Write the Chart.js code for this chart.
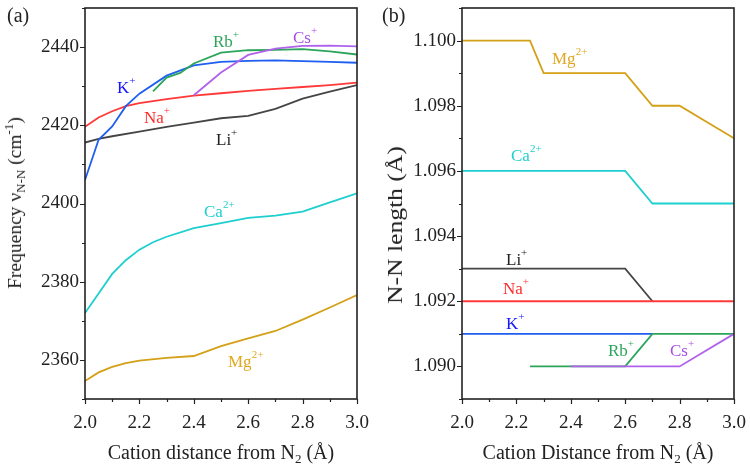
<!DOCTYPE html>
<html>
<head>
<meta charset="utf-8">
<script src="https://cdn.jsdelivr.net/npm/chart.js@4.4.1/dist/chart.umd.min.js"></script>
<style>
  html, body { margin: 0; padding: 0; background: #fff; }
  #wrap { position: relative; width: 750px; height: 471px; overflow: hidden;
          font-family: 'Liberation Serif', 'Times New Roman', serif; color: #222; }
  .panel { position: absolute; top: 0; width: 375px; height: 471px; }
  .lbl { position: absolute; font-size: 17px; line-height: 17px; white-space: nowrap; }
  .lbl .sp { font-size: 11px; position: relative; top: -9px; }
  .tag { position: absolute; font-size: 20px; line-height: 20px; }
  .ttl { position: absolute; font-size: 20px; line-height: 20px; white-space: nowrap;
         transform: translate(-50%, -50%); }
  .ttl.rot { transform: translate(-50%, -50%) rotate(-90deg); }
  .ttl.rot.wide { transform: translate(-50%, -50%) rotate(-90deg) scaleX(1.28); }
  .ttl sub { font-size: 13px; vertical-align: baseline; position: relative; top: 4px; }
  .ttl sup { font-size: 13px; vertical-align: baseline; position: relative; top: -8px; }
</style>
</head>
<body>
<div id="wrap">
  <div class="panel" style="left:0"><canvas id="freqChart" width="375" height="471"></canvas></div>
  <div class="panel" style="left:375px"><canvas id="lenChart" width="375" height="471"></canvas></div>

  <div class="tag" style="left:7px;top:5px">(a)</div>
  <div class="tag" style="left:382px;top:5px">(b)</div>

  <div class="ttl rot" style="left:16px;top:203px;font-size:19.5px">Frequency ν<sub>N-N</sub> (cm<sup>-1</sup>)</div>
  <div class="ttl" style="left:221px;top:453px">Cation distance from N<sub>2</sub> (Å)</div>
  <div class="ttl rot wide" style="left:395px;top:225px">N-N length (Å)</div>
  <div class="ttl" style="left:598px;top:453px">Cation Distance from N<sub>2</sub> (Å)</div>

  <!-- (a) series labels -->
  <div class="lbl" style="left:117px;top:79px;color:#1515ff">K<span class="sp">+</span></div>
  <div class="lbl" style="left:144px;top:109px;color:#ff2a2a">Na<span class="sp">+</span></div>
  <div class="lbl" style="left:216px;top:131px;color:#222">Li<span class="sp">+</span></div>
  <div class="lbl" style="left:213px;top:33px;color:#2ca55a">Rb<span class="sp">+</span></div>
  <div class="lbl" style="left:293px;top:29px;color:#a64de6">Cs<span class="sp">+</span></div>
  <div class="lbl" style="left:204px;top:203px;color:#1ecfcf">Ca<span class="sp">2+</span></div>
  <div class="lbl" style="left:228px;top:353px;color:#e0a820">Mg<span class="sp">2+</span></div>

  <!-- (b) series labels -->
  <div class="lbl" style="left:552px;top:50px;color:#e0a820">Mg<span class="sp">2+</span></div>
  <div class="lbl" style="left:511px;top:147px;color:#1ecfcf">Ca<span class="sp">2+</span></div>
  <div class="lbl" style="left:506px;top:251px;color:#222">Li<span class="sp">+</span></div>
  <div class="lbl" style="left:503px;top:280px;color:#ff2a2a">Na<span class="sp">+</span></div>
  <div class="lbl" style="left:506px;top:315px;color:#1515ff">K<span class="sp">+</span></div>
  <div class="lbl" style="left:608px;top:342px;color:#2ca55a">Rb<span class="sp">+</span></div>
  <div class="lbl" style="left:670px;top:342px;color:#a64de6">Cs<span class="sp">+</span></div>
</div>

<script>
// ── Colores ───────────────────────────────────────────────────
const C_LI = '#454545';
const C_NA = '#ff3838';
const C_K  = '#1f5ef0';
const C_RB = '#2ca55a';
const C_CS = '#b063ea';
const C_CA = '#1ecfcf';
const C_MG = '#d4a017';

// ── (a) Frecuencia N-N vs distancia ──────────────────────────
const liDist = [2.0, 2.05, 2.1, 2.2, 2.3, 2.4, 2.5, 2.6, 2.7, 2.8, 2.9, 3.0];
const liFreq = [2415.6, 2416.5, 2417.2, 2418.4, 2419.6, 2420.7, 2421.8, 2422.4, 2424.2, 2426.8, 2428.6, 2430.3];

const naDist = [2.0, 2.05, 2.1, 2.15, 2.2, 2.3, 2.4, 2.5, 2.6, 2.7, 2.8, 2.9, 3.0];
const naFreq = [2419.6, 2422.0, 2423.6, 2424.9, 2425.7, 2426.7, 2427.6, 2428.2, 2428.8, 2429.3, 2429.8, 2430.3, 2430.9];

const kDist  = [2.0, 2.05, 2.1, 2.15, 2.2, 2.3, 2.4, 2.5, 2.6, 2.7, 2.8, 2.9, 3.0];
const kFreq  = [2406.0, 2416.3, 2419.7, 2424.9, 2428.1, 2432.7, 2435.3, 2436.2, 2436.5, 2436.6, 2436.4, 2436.2, 2436.0];

const rbDist = [2.25, 2.3, 2.35, 2.4, 2.5, 2.6, 2.7, 2.8, 2.9, 3.0];
const rbFreq = [2428.7, 2432.2, 2433.4, 2435.8, 2438.6, 2439.2, 2439.3, 2439.5, 2438.9, 2438.1];

const csDist = [2.4, 2.5, 2.6, 2.7, 2.8, 2.9, 3.0];
const csFreq = [2427.7, 2433.5, 2438.0, 2439.6, 2440.3, 2440.4, 2440.2];

const caDist = [2.0, 2.05, 2.1, 2.15, 2.2, 2.25, 2.3, 2.4, 2.5, 2.6, 2.7, 2.8, 2.9, 3.0];
const caFreq = [2372.0, 2377.0, 2382.0, 2385.5, 2388.2, 2390.1, 2391.5, 2393.7, 2395.0, 2396.3, 2396.9, 2397.9, 2400.3, 2402.6];

const mgDist = [2.0, 2.05, 2.1, 2.15, 2.2, 2.3, 2.4, 2.5, 2.6, 2.7, 2.8, 2.9, 3.0];
const mgFreq = [2354.6, 2356.8, 2358.2, 2359.2, 2359.8, 2360.5, 2361.0, 2363.5, 2365.5, 2367.4, 2370.3, 2373.4, 2376.6];

// ── (b) Longitud N-N vs distancia ────────────────────────────
const mgLenDist = [2.0, 2.1, 2.2, 2.25, 2.3, 2.4, 2.5, 2.6, 2.7, 2.8, 2.9, 3.0];
const mgLen     = [1.100, 1.100, 1.100, 1.100, 1.099, 1.099, 1.099, 1.099, 1.098, 1.098, 1.0975, 1.097];

const caLenDist = [2.0, 2.2, 2.4, 2.6, 2.7, 2.8, 3.0];
const caLen     = [1.096, 1.096, 1.096, 1.096, 1.095, 1.095, 1.095];

const liLenDist = [2.0, 2.2, 2.4, 2.6, 2.7];
const liLen     = [1.093, 1.093, 1.093, 1.093, 1.092];

const naLenDist = [2.0, 2.2, 2.4, 2.6, 2.8, 3.0];
const naLen     = [1.092, 1.092, 1.092, 1.092, 1.092, 1.092];

const kLenDist  = [2.0, 2.2, 2.4, 2.6, 2.7];
const kLen      = [1.091, 1.091, 1.091, 1.091, 1.091];

const rbLenDist = [2.25, 2.4, 2.6, 2.7, 2.8, 3.0];
const rbLen     = [1.090, 1.090, 1.090, 1.091, 1.091, 1.091];

const csLenDist = [2.4, 2.6, 2.8, 3.0];
const csLen     = [1.090, 1.090, 1.090, 1.091];

// ── Helpers ───────────────────────────────────────────────────
const pts = (xs, ys) => xs.map((x, i) => ({ x, y: ys[i] }));

const line = (data, color) => ({
  data,
  borderColor: color,
  borderWidth: 1.8,
  pointRadius: 0,
  tension: 0,
  fill: false,
});

// marco + marcas de ejes (mayores y menores, hacia afuera)
const frameTicks = {
  id: 'frameTicks',
  afterDraw(chart) {
    const { ctx, chartArea: a, scales: { x, y } } = chart;
    ctx.save();
    ctx.strokeStyle = '#222';
    ctx.lineWidth = 1.2;
    ctx.beginPath();
    x.ticks.forEach(t => {
      const px = Math.round(x.getPixelForValue(t.value)) + 0.5;
      const len = t.label ? 5 : 3;
      ctx.moveTo(px, a.bottom); ctx.lineTo(px, a.bottom + len);
    });
    y.ticks.forEach(t => {
      const py = Math.round(y.getPixelForValue(t.value)) + 0.5;
      const len = t.label ? 5 : 3;
      ctx.moveTo(a.left, py); ctx.lineTo(a.left - len, py);
    });
    ctx.stroke();
    ctx.lineWidth = 1.6;
    ctx.strokeRect(a.left, a.top, a.right - a.left, a.bottom - a.top);
    ctx.restore();
  },
};

const tickFont = { family: "'Liberation Serif', serif", size: 19 };

function makeChart(id, datasets, yOpts, yWidth, padRight) {
  return new Chart(document.getElementById(id), {
    type: 'line',
    data: { datasets },
    options: {
      responsive: false,
      animation: false,
      layout: { padding: { top: 8, right: padRight, left: 0, bottom: 0 } },
      plugins: { legend: { display: false }, tooltip: { enabled: false } },
      scales: {
        x: {
          type: 'linear', min: 2.0, max: 3.0,
          grid: { display: false, drawTicks: false },
          border: { display: false },
          ticks: {
            stepSize: 0.1, autoSkip: false, maxRotation: 0, padding: 13,
            color: '#222', font: tickFont,
            callback: v => Math.round(v * 10) % 2 === 0 ? v.toFixed(1) : '',
          },
          afterFit: s => { s.height = 72; s.paddingLeft = 0; s.paddingRight = 0; },
        },
        y: Object.assign({
          type: 'linear',
          grid: { display: false, drawTicks: false },
          border: { display: false },
          afterFit: s => { s.width = yWidth; s.paddingTop = 0; s.paddingBottom = 0; },
        }, yOpts),
      },
    },
    plugins: [frameTicks],
  });
}

// ── Gráfica (a) ───────────────────────────────────────────────
makeChart('freqChart', [
  line(pts(csDist, csFreq), C_CS),
  line(pts(rbDist, rbFreq), C_RB),
  line(pts(kDist,  kFreq),  C_K),
  line(pts(naDist, naFreq), C_NA),
  line(pts(liDist, liFreq), C_LI),
  line(pts(caDist, caFreq), C_CA),
  line(pts(mgDist, mgFreq), C_MG),
], {
  min: 2350, max: 2450,
  ticks: {
    stepSize: 10, autoSkip: false, padding: 6, color: '#222', font: tickFont,
    callback: v => Math.round(v) % 20 === 0 ? String(Math.round(v)) : '',
  },
}, 85, 18);

// ── Gráfica (b) ───────────────────────────────────────────────
makeChart('lenChart', [
  line(pts(csLenDist, csLen), C_CS),
  line(pts(rbLenDist, rbLen), C_RB),
  line(pts(naLenDist, naLen), C_NA),
  line(pts(liLenDist, liLen), C_LI),
  line(pts(kLenDist,  kLen),  C_K),
  line(pts(caLenDist, caLen), C_CA),
  line(pts(mgLenDist, mgLen), C_MG),
], {
  min: 1.089, max: 1.101,
  ticks: {
    stepSize: 0.001, autoSkip: false, padding: 6, color: '#222', font: tickFont,
    callback: v => Math.round(v * 1000) % 2 === 0 ? v.toFixed(3) : '',
  },
}, 87, 16);
</script>
</body>
</html>
